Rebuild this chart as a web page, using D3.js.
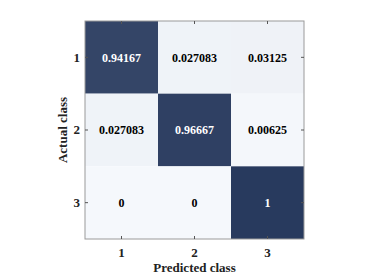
<!DOCTYPE html>
<html>
<head>
<meta charset="utf-8">
<script src="https://cdn.jsdelivr.net/npm/d3@7"></script>
<style>
  body { margin: 0; background: #fff; }
  text { font-family: "Liberation Serif", "Times New Roman", serif; font-weight: bold; }
</style>
</head>
<body>
<div id="chart"></div>
<script>
const classes = ["1", "2", "3"];
const row1 = [0.94167, 0.027083, 0.03125];
const row2 = [0.027083, 0.96667, 0.00625];
const row3 = [0, 0, 1];
const rowLabels = ["0.94167", "0.027083", "0.03125", "0.027083", "0.96667", "0.00625", "0", "0", "1"];

const width = 376, height = 277;
const margin = { left: 85, top: 21, right: 72, bottom: 38 };
const w = width - margin.left - margin.right;
const h = height - margin.top - margin.bottom;

const cells = [];
[row1, row2, row3].forEach((row, i) => {
  row.forEach((v, j) => cells.push({ actual: classes[i], pred: classes[j], v, label: rowLabels[i * 3 + j] }));
});

const svg = d3.select("#chart").append("svg")
  .attr("width", width)
  .attr("height", height);

const g = svg.append("g")
  .attr("transform", `translate(${margin.left}, ${margin.top})`);

const x = d3.scaleBand().domain(classes).range([0, w]);
const y = d3.scaleBand().domain(classes).range([0, h]);
const color = d3.scaleLinear().domain([0, 1]).range(["#f5f8fc", "#283a5e"]);

g.selectAll("rect.cell")
  .data(cells).enter()
  .append("rect")
    .attr("class", "cell")
    .attr("x", d => x(d.pred))
    .attr("y", d => y(d.actual))
    .attr("width", x.bandwidth())
    .attr("height", y.bandwidth())
    .attr("fill", d => color(d.v));

g.selectAll("text.val")
  .data(cells).enter()
  .append("text")
    .attr("class", "val")
    .attr("x", d => x(d.pred) + x.bandwidth() / 2)
    .attr("y", d => y(d.actual) + y.bandwidth() / 2)
    .attr("dy", "0.35em")
    .attr("text-anchor", "middle")
    .attr("font-size", "12px")
    .attr("fill", d => d.v > 0.5 ? "#fff" : "#000")
    .text(d => d.label);

// frame
g.append("rect")
  .attr("width", w)
  .attr("height", h)
  .attr("fill", "none")
  .attr("stroke", "#9a9a9a")
  .attr("stroke-width", 1);

const xAxis = g.append("g")
  .attr("transform", `translate(0, ${h})`)
  .call(d3.axisBottom(x).tickSizeInner(-3).tickSizeOuter(0).tickPadding(9));
const yAxis = g.append("g")
  .call(d3.axisLeft(y).tickSizeInner(-3).tickSizeOuter(0).tickPadding(5));
const xTop = g.append("g")
  .call(d3.axisTop(x).tickSizeInner(-3).tickSizeOuter(0).tickFormat(""));
const yRight = g.append("g")
  .attr("transform", `translate(${w}, 0)`)
  .call(d3.axisRight(y).tickSizeInner(-3).tickSizeOuter(0).tickFormat(""));

[xAxis, yAxis, xTop, yRight].forEach(a => {
  a.select(".domain").remove();
  a.selectAll("line").attr("stroke", "#555");
  a.selectAll("text")
    .attr("font-size", "13px")
    .attr("fill", "#222")
    .style("font-family", "'Liberation Serif', serif")
    .style("font-weight", "bold");
});

svg.append("text")
  .attr("x", margin.left + w / 2)
  .attr("y", 272)
  .attr("text-anchor", "middle")
  .attr("font-size", "13px")
  .attr("fill", "#222")
  .text("Predicted class");

svg.append("text")
  .attr("transform", `translate(67, ${margin.top + h / 2}) rotate(-90)`)
  .attr("text-anchor", "middle")
  .attr("font-size", "13px")
  .attr("fill", "#222")
  .text("Actual class");
</script>
</body>
</html>
